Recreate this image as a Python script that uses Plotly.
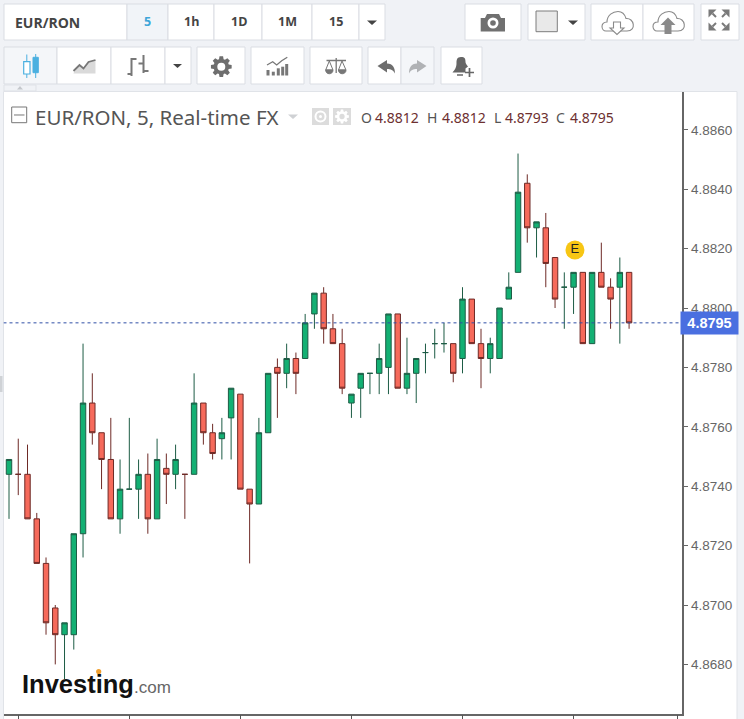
import re
import math
import plotly.graph_objects as go

# ---------- data ----------
candle_index = list(range(68))
opens = [4.8744,4.8744,4.8744,4.8729,4.8714,4.8699,4.8690,4.8690,4.8724,4.8768,4.8758,4.8749,4.8729,4.8739,4.8739,4.8744,4.8729,4.8746,4.8744,4.8744,
         4.8744,4.8768,4.8758,4.8756,4.8763,4.8771,4.8739,4.8734,4.8758,4.8780,4.8778,4.8783,4.8783,4.8798,4.8805,4.8793,4.8788,4.8768,4.8773,4.8778,
         4.8778,4.8780,4.8798,4.8773,4.8778,4.8785,4.8788,4.8788,4.8788,4.8783,4.8803,4.8788,4.8783,4.8783,4.8803,4.8812,4.8842,4.8827,4.8827,4.8817,
         4.8807,4.8807,4.8812,4.8788,4.8812,4.8807,4.8807,4.8812]
highs = [4.8749,4.8756,4.8754,4.8731,4.8716,4.8700,4.8694,4.8724,4.8788,4.8778,4.8758,4.8763,4.8749,4.8763,4.8749,4.8751,4.8756,4.8751,4.8754,4.8744,
         4.8778,4.8768,4.8761,4.8763,4.8773,4.8771,4.8739,4.8763,4.8778,4.8783,4.8788,4.8785,4.8798,4.8805,4.8807,4.8798,4.8793,4.8771,4.8778,4.8778,
         4.8788,4.8798,4.8798,4.8790,4.8783,4.8788,4.8793,4.8795,4.8788,4.8807,4.8803,4.8793,4.8790,4.8800,4.8812,4.8852,4.8845,4.8829,4.8832,4.8817,
         4.8812,4.8812,4.8812,4.8812,4.8822,4.8810,4.8817,4.8812]
lows = [4.8729,4.8737,4.8729,4.8714,4.8690,4.8680,4.8675,4.8685,4.8716,4.8754,4.8739,4.8729,4.8724,4.8739,4.8729,4.8724,4.8729,4.8734,4.8739,4.8729,
        4.8744,4.8754,4.8749,4.8749,4.8749,4.8739,4.8714,4.8734,4.8758,4.8763,4.8773,4.8771,4.8783,4.8793,4.8788,4.8788,4.8771,4.8763,4.8763,4.8771,
        4.8771,4.8771,4.8773,4.8771,4.8768,4.8778,4.8783,4.8785,4.8775,4.8778,4.8788,4.8773,4.8778,4.8783,4.8803,4.8812,4.8822,4.8817,4.8807,4.8800,
        4.8793,4.8798,4.8788,4.8788,4.8807,4.8793,4.8788,4.8793]
closes = [4.8749,4.8744,4.8729,4.8714,4.8694,4.8690,4.8694,4.8724,4.8768,4.8758,4.8749,4.8729,4.8739,4.8739,4.8744,4.8729,4.8749,4.8744,4.8749,4.8744,
          4.8768,4.8758,4.8751,4.8758,4.8773,4.8739,4.8734,4.8758,4.8778,4.8778,4.8783,4.8778,4.8795,4.8805,4.8793,4.8788,4.8773,4.8771,4.8778,4.8778,
          4.8783,4.8798,4.8773,4.8778,4.8783,4.8785,4.8788,4.8788,4.8778,4.8803,4.8788,4.8783,4.8788,4.8800,4.8807,4.8839,4.8827,4.8829,4.8815,4.8803,
          4.8807,4.8812,4.8788,4.8812,4.8807,4.8803,4.8812,4.8795]
price_ticks = [4.8680,4.8700,4.8720,4.8740,4.8760,4.8780,4.8800,4.8820,4.8840,4.8860]
time_ticks = [1,13,25,37,49,61,72.2]
last_price = 4.8795
event_index = [61.15]
event_price = [4.88195]
event_label = ["E"]
symbol = "EUR/RON"
intervals = ["1h","1D","1M","15"]
title_text = "EUR/RON, 5, Real-time FX"
ohlc_labels = ["O","H","L","C"]
ohlc_values = ["4.8812","4.8812","4.8793","4.8795"]

# ---------- pixel helpers (page chrome only) ----------
W, H = 744, 719
def fx(x): return x / W
def fy(y): return 1 - y / H
shapes, notes = [], []
def path_px(d):
    idx = 0
    def sub(m):
        nonlocal idx
        v = float(m.group(0))
        r = fx(v) if idx % 2 == 0 else fy(v)
        idx += 1
        return f"{r:.5f}"
    return re.sub(r"-?\d+\.?\d*", sub, d)
def rect(x0, y0, x1, y1, fill="white", line="#dadde3", lw=1, layer="below"):
    shapes.append(dict(type="rect", xref="paper", yref="paper", x0=fx(x0), x1=fx(x1), y0=fy(y0), y1=fy(y1),
                       fillcolor=fill, line=dict(color=line, width=lw), layer=layer))
def path(d, fill=None, line=None, lw=1):
    shapes.append(dict(type="path", xref="paper", yref="paper", path=path_px(d),
                       fillcolor=fill or "rgba(0,0,0,0)",
                       line=dict(color=line or "rgba(0,0,0,0)", width=lw if line else 0), layer="above"))
def circle(cx, cy, r, fill=None, line=None, lw=1, layer="above"):
    shapes.append(dict(type="circle", xref="paper", yref="paper", x0=fx(cx-r), x1=fx(cx+r), y0=fy(cy+r), y1=fy(cy-r),
                       fillcolor=fill or "rgba(0,0,0,0)",
                       line=dict(color=line or "rgba(0,0,0,0)", width=lw if line else 0), layer=layer))
def text(x, y, s, size=13, color="#444", font="Open Sans", anchor="left", bold=False):
    notes.append(dict(xref="paper", yref="paper", x=fx(x), y=fy(y), text=f"<b>{s}</b>" if bold else s, showarrow=False,
                      xanchor=anchor, yanchor="middle", font=dict(size=size, color=color, family=font)))
def tri(x0, x1, y0, color="#444"):
    h = (x1 - x0) * 0.45
    path(f"M{x0},{y0} L{x1},{y0} L{(x0+x1)/2},{y0+h} Z", fill=color)
def gear(cx, cy, r, color, hole="white"):
    pts = []
    for i in range(8):
        a = i * math.pi / 4
        for da, rr in ((-0.30, r*0.74), (-0.17, r), (0.17, r), (0.30, r*0.74)):
            pts.append((cx + rr*math.cos(a+da), cy + rr*math.sin(a+da)))
    path("M" + " L".join(f"{x:.2f},{y:.2f}" for x, y in pts) + " Z", fill=color)
    circle(cx, cy, r*0.38, fill=hole)

# panel
rect(3.5, 91.5, 737, 730, fill="white", line="#e0e3e8")
rect(0, 376, 2.5, 392, fill="#cfd2d6", line="#cfd2d6", lw=0)

# toolbar row 1
row1 = [(4,127),(127,168),(168,214),(214,262),(262,312),(312,359),(359,385),(465,521),(528,585),(591,643),(643,694),(701,739)]
for a, b in row1:
    rect(a, 4, b, 40, fill="#f1f4f8" if a == 127 else "white")
text(12.5, 22, symbol, size=14, color="#444", bold=True)
text(147.5, 21, "5", size=12.5, color="#3fa6d8", anchor="center", bold=True)
for cx, s in zip((191, 238.5, 287.5, 336), intervals):
    text(cx, 21, s, size=12.5, color="#444", anchor="center", bold=True)
tri(367, 377, 20.5)

# toolbar row 2
row2 = [(4,57),(57,111),(111,165),(165,191),(197,245),(251,304),(310,362),(368,401),(401,434),(441,482)]
for a, b in row2:
    rect(a, 47, b, 84, fill="#f4f6f9" if a in (4, 401) else "white")
rect(4, 85, 36, 91, fill="#f0f2f6", line="#dfe2e7")
path("M17,89.5 L23,89.5 L20,86 Z", fill="#c4c7cc")

# candle icon
blue = "#4bb0e0"
path("M26.8,54.5 L26.8,78 M35.7,54 L35.7,78", line=blue, lw=1)
rect(23.7, 61.7, 30, 74, fill="white", line=blue, lw=1.2, layer="above")
rect(33, 57.3, 38.3, 72.7, fill=blue, line=blue, lw=1, layer="above")
# area icon
path("M73.5,73 L79.5,65 L83.5,68.5 L88.5,62 L95.5,60 L95.5,73.5 L73.5,73.5 Z", fill="#dadada")
path("M73.5,71 L79.5,65 L83.5,68.5 L88.5,62 L95.5,60", line="#777", lw=1.8)
# bars icon
path("M131.5,58 L131.5,76 M127.5,74 L131.5,74 M131.5,59 L136.5,59 M143.5,55 L143.5,73 M138.5,63.5 L143.5,63.5 M143.5,71 L148.5,71",
     line="#777", lw=2)
tri(173, 182, 64)
gear(221.3, 66.7, 10.5, "#6e6e6e")
# studies icon
for bx, top in zip((268, 273.3, 278.3, 282.7, 286.7), (70, 71.7, 68.3, 66.7, 64)):
    rect(bx-1.5, top, bx+1.5, 75.5, fill="#777", line="#777", lw=0, layer="above")
path("M267,65 L272.7,61.7 L276.7,65 L281.7,60.7 L287.3,57.3", line="#777", lw=1.3)
# scales icon
path("M326.5,60.5 L346,60.5 M336.2,58 L336.2,73", line="#777", lw=1.3)
path("M329.3,61 L325.7,70 L333,70 Z M342,61 L338.5,70 L346,70 Z", line="#777", lw=1)
path("M325.7,70 C325.7,75 333,75 333,70 Z M338.5,70 C338.5,75 346,75 346,70 Z", fill="#777", line="#777", lw=1)
# undo / redo
path("M377.5,66 L387,60 L387,63.5 C393,63.5 395,68 395,73.5 C393,70 391,69 387,69 L387,72.5 Z", fill="#6e6e6e")
path("M426.5,66 L417,60 L417,63.5 C411,63.5 409,68 409,73.5 C411,70 413,69 417,69 L417,72.5 Z", fill="#b0b2b5")
# bell
path("M461,57 C457,57 456.5,60 456.5,63 C456.5,68 454.5,70 452.5,72.5 L465.5,72.5 L465.5,68.5 L468,66.5 C466.5,65 465.5,63 465.5,62 C465.5,59 465,57 461,57 Z", fill="#666")
path("M457,75 L463,75", line="#666", lw=1.5)
path("M469.5,68 L469.5,77 M465,72.5 L474,72.5", line="#666", lw=1.7)

# right side row 1
path("M480.7,18 L485,18 L487,14 L499,14 L501,18 L505,18 L505,31.5 L480.7,31.5 Z", fill="#707070")
circle(493, 23, 5.5, fill="white")
circle(493, 23, 2.8, fill="#707070")
rect(536, 11, 557.3, 31.7, fill="#e9e9e9", line="#7d7d7d", layer="above")
tri(568, 578, 20.5, "#444")
def cloud_at(cx):
    d = ("M%.1f,31 C%.1f,31 %.1f,22 %.1f,22 C%.1f,15 %.1f,11.5 %.1f,11.5 C%.1f,11.5 %.1f,15 %.1f,18.5 "
         "C%.1f,17.5 %.1f,31 %.1f,31 Z") % (cx-11, cx-16, cx-17, cx-10, cx-10, cx-4, cx+1, cx+6, cx+8, cx+9, cx+17, cx+20, cx+10)
    path(d, fill="white", line="#8a8a8a", lw=1.1)
cloud_at(617)
path("M613.5,22 L620.5,22 L620.5,28 L624,28 L617,34.5 L610,28 L613.5,28 Z", fill="white", line="#8a8a8a", lw=1.1)
cloud_at(668)
path("M668,17.5 L675.5,25 L671.5,25 L671.5,34 L664.5,34 L664.5,25 L660.5,25 Z", fill="#8a8a8a")
# fullscreen
for sx, sy in ((-1,-1),(1,-1),(-1,1),(1,1)):
    cx, cy = 719 + sx*6.5, 20 + sy*6.5
    a = (cx + sx*4, cy + sy*4)
    b = (cx - sx*4, cy + sy*4)
    c = (cx + sx*4, cy - sy*4)
    path(f"M{a[0]},{a[1]} L{b[0]},{b[1]} L{c[0]},{c[1]} Z", fill="#7a7a7a")
    path(f"M{cx},{cy} L{cx - sx*3.5},{cy - sy*3.5}", line="#7a7a7a", lw=2)

# chart legend header
shapes.append(dict(type="rect", xref="paper", yref="paper", x0=fx(11.7), x1=fx(26.7), y0=fy(122.7), y1=fy(107),
                   fillcolor="white", line=dict(color="#777", width=1), layer="above"))
path("M14,115 L24.5,115", line="#777", lw=1)
text(33, 117, title_text, size=20.5, color="#555", font="Noto Sans")
path("M288,114.5 L298,114.5 L293,119 Z", fill="#cfd1d4")
rect(312, 108, 329, 125, fill="#dcdcdc", line="#dcdcdc", lw=0, layer="above")
circle(320.5, 116.5, 5, line="white", lw=2)
circle(320.5, 116.5, 1.5, fill="white")
rect(333, 108, 351, 125, fill="#dcdcdc", line="#dcdcdc", lw=0, layer="above")
gear(342, 116.5, 7, "white", hole="#dcdcdc")
for lx, vx, lab, val in zip((359, 425, 492, 554), (373, 439.5, 502.5, 567.5), ohlc_labels, ohlc_values):
    text(lx, 117, lab, size=14, color="#555", font="Noto Sans")
    text(vx, 117, val, size=14, color="#6d3030", font="Noto Sans")

# logo
text(20, 684, "Investing", size=25.5, color="#111", font="Liberation Sans", bold=True)
text(131.5, 687, ".com", size=17, color="#666", font="Liberation Sans")
circle(98.7, 671.5, 2.6, fill="#f0a030")

# ---------- chart ----------
fig = go.Figure()
plot_left, plot_right, plot_top, plot_bottom = 3.5, 681.5, 92, 713.5
candle_x0, candle_dx = 9.0, 9.255
x_range = [(plot_left - candle_x0) / candle_dx, (plot_right - candle_x0) / candle_dx]
def price_at(y): return 4.88 + (308 - y) / 29700
y_range = [price_at(plot_bottom), price_at(plot_top)]

fig.add_trace(go.Candlestick(
    x=candle_index, open=opens, high=highs, low=lows, close=closes, whiskerwidth=0,
    increasing=dict(fillcolor="#13b073", line=dict(color="#1d5c45", width=1)),
    decreasing=dict(fillcolor="#f66a5b", line=dict(color="#6e2a26", width=1)),
    hoverinfo="skip", showlegend=False))
fig.add_trace(go.Scatter(x=x_range, y=[last_price, last_price], mode="lines",
                         line=dict(color="#2f4fa5", width=1, dash="dot"), hoverinfo="skip", showlegend=False))
fig.add_trace(go.Scatter(x=event_index, y=event_price, mode="markers+text", text=event_label, textposition="middle center",
                         textfont=dict(size=13, color="#222", family="Liberation Sans"),
                         marker=dict(size=19, color="#f7c614", line=dict(width=0)), hoverinfo="skip", showlegend=False))

notes.append(dict(xref="paper", yref="y", x=fx(709.5), y=last_price, text=f"<b>{last_price:.4f}</b>", showarrow=False,
                  xanchor="center", yanchor="middle", width=55, height=20, bgcolor="#4a6fe0", xshift=0,
                  font=dict(size=14.5, color="white", family="Liberation Sans")))

fig.update_layout(
    width=W, height=H, margin=dict(l=0, r=0, t=0, b=0, pad=0), autosize=False,
    paper_bgcolor="#f0f2f6", plot_bgcolor="rgba(0,0,0,0)", boxgap=0.16, showlegend=False, dragmode=False,
    shapes=shapes, annotations=notes,
    xaxis=dict(domain=[fx(plot_left), fx(plot_right)], range=x_range, tickmode="array", tickvals=time_ticks,
               ticktext=[""]*len(time_ticks), ticks="outside", ticklen=5, tickcolor="#555", tickwidth=1,
               showgrid=False, zeroline=False, showline=True, linecolor="#666", linewidth=1.5,
               rangeslider=dict(visible=False), fixedrange=True),
    yaxis=dict(domain=[fy(plot_bottom), fy(plot_top)], range=y_range, side="right", tickmode="array", tickvals=price_ticks,
               ticktext=[f"{v:.4f}" for v in price_ticks], ticks="outside", ticklen=5, tickcolor="#666", tickwidth=1,
               tickfont=dict(size=13.5, color="#666", family="Liberation Sans"),
               showgrid=False, zeroline=False, showline=True, linecolor="#666", linewidth=1.5, fixedrange=True),
)
fig.write_html("out.html", config=dict(displayModeBar=False),
               post_script="document.body.style.margin='0';document.body.style.overflow='hidden';")
